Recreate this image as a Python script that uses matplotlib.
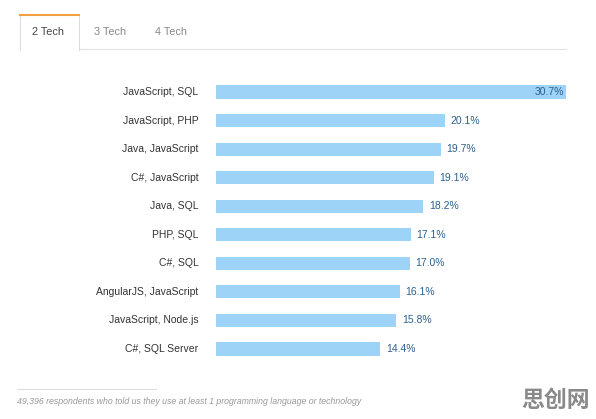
import matplotlib.pyplot as plt
from matplotlib.lines import Line2D

pairs = ["JavaScript, SQL", "JavaScript, PHP", "Java, JavaScript", "C#, JavaScript",
         "Java, SQL", "PHP, SQL", "C#, SQL", "AngularJS, JavaScript",
         "JavaScript, Node.js", "C#, SQL Server"]
share = [30.7, 20.1, 19.7, 19.1, 18.2, 17.1, 17.0, 16.1, 15.8, 14.4]
tabs = ["2 Tech", "3 Tech", "4 Tech"]
note = "49,396 respondents who told us they use at least 1 programming language or technology"

plt.rcParams['font.family'] = ['Liberation Sans', 'DejaVu Sans']

W, H = 596, 419
fig = plt.figure(figsize=(W / 100, H / 100), dpi=100)
fig.patch.set_facecolor('white')

# bar chart area
ax = fig.add_axes([216 / W, (H - 363.3) / H, 350 / W, 285.6 / H])
ypos = list(range(len(pairs)))
ax.barh(ypos, share, height=0.46, color='#9dd3f6')
ax.set_xlim(0, share[0])
ax.set_ylim(len(pairs) - 0.5, -0.5)
ax.axis('off')

for y, (lab, v) in enumerate(zip(pairs, share)):
    ax.text(-1.55, y, lab, ha='right', va='center', fontsize=7.5, color='#333333')
    if y == 0:
        ax.text(v - 0.2, y, '%.1f%%' % v, ha='right', va='center', fontsize=7.5, color='#2d5f8f')
    else:
        ax.text(v + 0.5, y, '%.1f%%' % v, ha='left', va='center', fontsize=7.5, color='#2d5f8f')

# overlay in pixel coordinates for tabs and footer
ov = fig.add_axes([0, 0, 1, 1])
ov.set_xlim(0, W)
ov.set_ylim(H, 0)
ov.axis('off')
ov.patch.set_alpha(0)

ov.add_line(Line2D([20, 20], [15, 50], color='#dddddd', lw=0.8))
ov.add_line(Line2D([78.5, 78.5], [15, 50], color='#dddddd', lw=0.8))
ov.add_line(Line2D([20, 78.5], [15.5, 15.5], color='#f0a040', lw=1.5))
ov.add_line(Line2D([78.5, 566], [49.5, 49.5], color='#e2e2e2', lw=0.8))
for x, t, c in zip([48.5, 110, 171], tabs, ['#444444', '#888888', '#888888']):
    ov.text(x, 32, t, ha='center', va='center', fontsize=7.8, color=c)

ov.add_line(Line2D([17, 156], [389, 389], color='#dddddd', lw=0.8))
ov.text(17, 401, note, ha='left', va='center', fontsize=6.3, style='italic', color='#999999')
ov.text(555, 400, "思创网", ha='center', va='center', fontsize=16.5, weight='bold',
        color='#8a8a8a', family=['Noto Sans CJK SC', 'DejaVu Sans'])

fig.savefig('out.png', dpi=100)
